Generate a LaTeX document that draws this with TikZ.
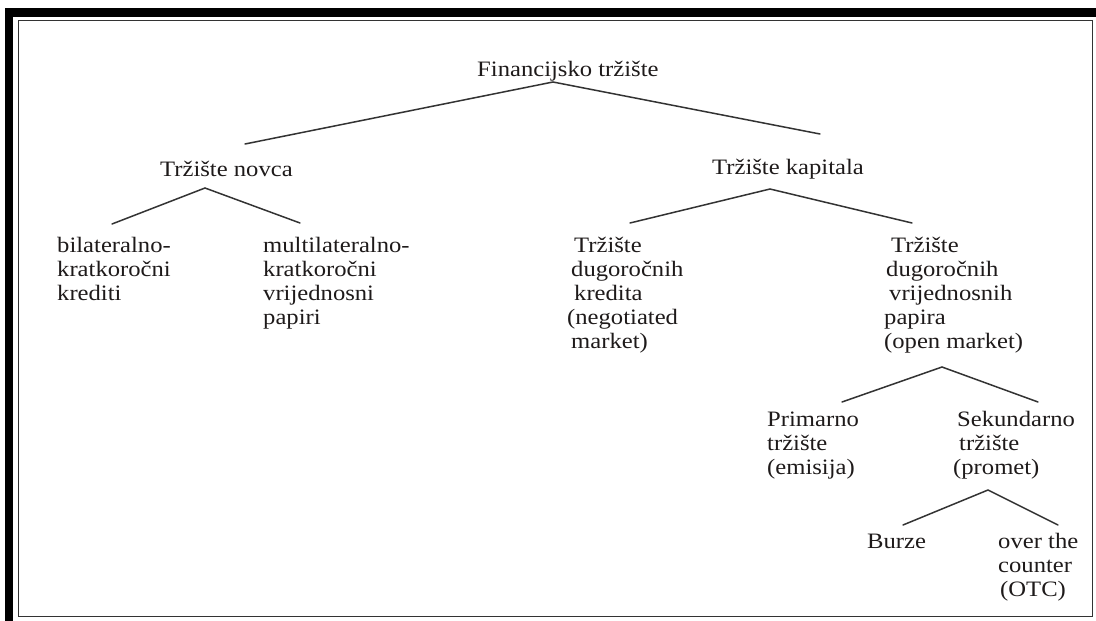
\documentclass[tikz,border=0pt]{standalone}
\usepackage{fontspec}
\setmainfont[FakeStretch=1.12]{Liberation Serif}
\definecolor{txt}{HTML}{1E1A1A}
\definecolor{ln}{HTML}{333333}
\begin{document}
\begin{tikzpicture}[x=1pt,y=-1pt,
  lbl/.style={anchor=base west,inner sep=0pt,align=left,text=txt,
    font=\fontsize{22}{24}\selectfont},
  conn/.style={draw=ln,line width=1.5pt,line cap=round}]
\useasboundingbox (0,0) rectangle (1096,621);
% frame
\fill[black] (5,8) rectangle (1096,17);
\fill[black] (5,8) rectangle (13,621);
\draw[ln,line width=1.6pt] (18.5,20.5) rectangle (1092.5,616.5);
% nodes (multi-line nodes are placed by the baseline of their last line)
\node[lbl] (fin) at (477,76) {Financijsko tržište};
\node[lbl] (nov) at (160,176) {Tržište novca};
\node[lbl] (kap) at (712,174) {Tržište kapitala};
\node[lbl] (bil) at (57,300) {bilateralno-\\kratkoročni\\krediti};
\node[lbl] (mul) at (263,324) {multilateralno-\\kratkoročni\\vrijednosni\\papiri};
\node[lbl] (kre) at (571,348) {\hspace{3pt}Tržište\\dugoročnih\\\hspace{3pt}kredita\\\hspace{-4pt}(negotiated\\market)};
\node[lbl] (vri) at (884,348) {\hspace{7pt}Tržište\\\hspace{2pt}dugoročnih\\\hspace{5pt}vrijednosnih\\papira\\(open market)};
\node[lbl] (pri) at (767,474) {Primarno\\tržište\\(emisija)};
\node[lbl] (sek) at (957,474) {Sekundarno\\\hspace{2pt}tržište\\\hspace{-4pt}(promet)};
\node[lbl] (bur) at (867,548) {Burze};
\node[lbl] (otc) at (998,596) {over the\\counter\\\hspace{2pt}(OTC)};
% connector points
\coordinate (finA) at (553,82);
\coordinate (novT) at (245,144);
\coordinate (kapT) at (820,134);
\coordinate (novA) at (205,188);
\coordinate (bilT) at (112,224);
\coordinate (mulT) at (300,223);
\coordinate (kapA) at (770,189);
\coordinate (kreT) at (630,223);
\coordinate (vriT) at (912,223);
\coordinate (vriA) at (942,367);
\coordinate (priT) at (842,402);
\coordinate (sekT) at (1038,402);
\coordinate (sekA) at (988,490);
\coordinate (burT) at (903,525);
\coordinate (otcT) at (1058,525);
% connectors
\draw[conn] (novT) -- (finA) -- (kapT);
\draw[conn] (bilT) -- (novA) -- (mulT);
\draw[conn] (kreT) -- (kapA) -- (vriT);
\draw[conn] (priT) -- (vriA) -- (sekT);
\draw[conn] (burT) -- (sekA) -- (otcT);
\end{tikzpicture}
\end{document}
